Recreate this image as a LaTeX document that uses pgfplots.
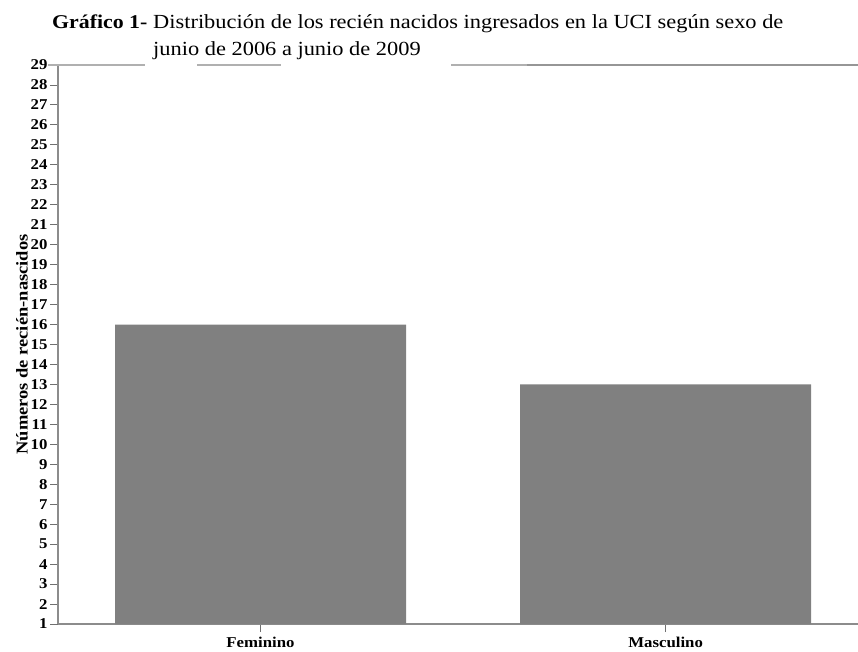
\documentclass[border=0pt]{standalone}
\usepackage{fontspec}
\setmainfont{Liberation Serif}[FakeStretch=1.12]
\usepackage{pgfplots}
\pgfplotsset{compat=1.18}
\definecolor{barg}{HTML}{808080}
\definecolor{axg}{HTML}{8C8C8C}
\definecolor{tickg}{HTML}{707070}
\definecolor{topg}{HTML}{B0B0B0}
\begin{document}
\begin{tikzpicture}[x=1pt,y=1pt]
\useasboundingbox (0,0) rectangle (858,651);
\begin{axis}[
  at={(58pt,27pt)}, anchor=south west,
  scale only axis, width=800pt, height=559pt,
  xmin=-0.5, xmax=1.475, ymin=1, ymax=29,
  axis x line=bottom, axis y line=left,
  axis line style={axg, line width=1.8pt, -},
  xtick={0,1}, xticklabels={Feminino,Masculino},
  ytick={1,...,29},
  tick align=outside, major tick length=8pt,
  tick style={tickg, line width=0.9pt},
  /pgf/number format/assume math mode=true,
  ticklabel style={font=\fontsize{15}{15}\selectfont\bfseries},
  yticklabel style={xshift=1pt},
  xticklabel style={yshift=-2pt},
  ylabel={Números de recién-nascidos},
  ylabel style={font=\fontsize{16.5}{16.5}\selectfont\bfseries, yshift=-4pt},
  ybar, bar width=291pt,
  clip=true,
]
\addplot[fill=barg, draw=none, bar shift=0pt] coordinates {(0,16) (1,13)};
\end{axis}
\draw[topg, line width=2pt] (48,586) -- (145,586);
\draw[topg, line width=2pt] (197,586) -- (281,586);
\draw[topg, line width=2pt] (451,586) -- (527,586);
\draw[topg!85!black, line width=2pt] (527,586) -- (858,586);
\node[anchor=base west, inner sep=0pt, font=\fontsize{19.5}{19.5}\selectfont] at (52,622) {\textbf{Gráfico 1-}};
\node[anchor=base west, inner sep=0pt, font=\fontsize{20}{20}\selectfont] at (153,622) {Distribución de los recién nacidos ingresados en la UCI según sexo de};
\node[anchor=base west, inner sep=0pt, font=\fontsize{20}{20}\selectfont] at (153,595) {junio de 2006 a junio de 2009};
\end{tikzpicture}
\end{document}
